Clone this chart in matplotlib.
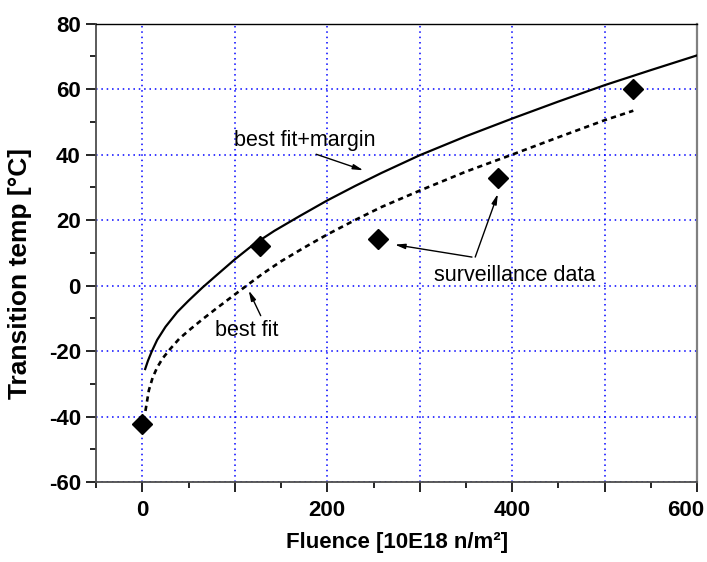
import matplotlib
matplotlib.use("Agg")
import matplotlib.pyplot as plt
from matplotlib.ticker import MultipleLocator, FuncFormatter
from matplotlib.transforms import ScaledTranslation

plt.rcParams['font.family'] = ['Liberation Sans', 'DejaVu Sans']
plt.rcParams['axes.unicode_minus'] = False

# surveillance measurements
fluence = [0, 127, 255, 385, 531]
temp = [-42.3, 12.0, 14.2, 33.0, 60.1]

# best fit + margin curve (solid)
margin_x = [3, 6, 10, 16, 25, 37.7, 50, 65, 80, 100, 120, 142.7, 170, 200, 230, 258.7,
            300, 350, 400, 450, 500, 550, 600]
margin_y = [-25.5, -23.0, -20.2, -16.6, -12.6, -8.1, -4.6, -0.6, 3.1, 8.0, 12.5, 16.7, 21.2, 26.0, 30.4, 34.4,
            39.8, 45.6, 51.0, 56.2, 61.2, 65.8, 70.3]

# best fit curve (dashed)
fit_x = [3.3, 7, 11, 16, 22, 30, 40, 52, 65, 80, 95, 110, 130, 150, 175, 200, 230, 258.7,
         300, 350, 400, 450, 500, 531]
fit_y = [-38.3, -32.0, -28.2, -25.0, -22.2, -19.4, -16.2, -13.3, -10.3, -7.0, -3.8, -0.6, 3.6, 7.4, 11.6, 15.6, 20.0, 24.0,
         29.0, 34.8, 40.0, 45.3, 50.5, 53.4]

fig = plt.figure(figsize=(7.07, 5.62), dpi=100)
ax = fig.add_axes([0.136, 0.1423, 0.850, 0.8157])

ax.plot(margin_x, margin_y, color='black', lw=1.6, zorder=3)
ax.plot(fit_x, fit_y, color='black', lw=1.9, linestyle=(0, (2.0, 1.6)), zorder=3)
ax.plot(fluence, temp, linestyle='none', marker='D', color='black', ms=10, zorder=4)

ax.set_xlim(-50, 600)
ax.set_ylim(-60, 80)

ax.xaxis.set_major_locator(MultipleLocator(100))
ax.xaxis.set_minor_locator(MultipleLocator(50))
ax.xaxis.set_major_formatter(FuncFormatter(lambda v, p: '%d' % v if round(v) % 200 == 0 else ''))
ax.yaxis.set_major_locator(MultipleLocator(20))
ax.yaxis.set_minor_locator(MultipleLocator(10))

ax.tick_params(which='major', direction='out', length=7, width=1.2, labelsize=16)
ax.tick_params(axis='x', which='major', pad=6)
ax.tick_params(axis='y', which='major', pad=4)
ax.tick_params(which='minor', direction='out', length=4, width=1.2)
ax.tick_params(top=False, right=False, which='both')
for lab in ax.get_xticklabels() + ax.get_yticklabels():
    lab.set_fontweight('bold')

ax.grid(True, which='major', color='#0000ff', linestyle=(0, (1, 2.5)), lw=1.1)

ax.spines['top'].set_color('black')
ax.spines['top'].set_linewidth(1.0)
ax.spines['right'].set_color('0.5')
ax.spines['right'].set_linewidth(1.6)
for s in ['left', 'bottom']:
    ax.spines[s].set_color('0.3')
    ax.spines[s].set_linewidth(1.3)

ax.set_xlabel('Fluence [10E18 n/m²]', fontsize=16, fontweight='bold', labelpad=8)
ax.set_ylabel('Transition temp [°C]', fontsize=19, fontweight='bold')
ax.yaxis.set_label_coords(-0.107, 0.455)

arrow = dict(arrowstyle='-|>,head_length=0.6,head_width=0.15', color='black', lw=1.0, shrinkA=0, shrinkB=0)

ax.text(99, 44.4, 'best fit+margin', fontsize=15.5, ha='left', va='center')
ax.annotate('', xy=(239, 35.2), xytext=(188, 40.1), arrowprops=arrow)

ax.text(79, -13.8, 'best fit', fontsize=15.5, ha='left', va='center')
ax.annotate('', xy=(115, -1.5), xytext=(128, -9.2), arrowprops=arrow)

ax.text(315, 3, 'surveillance data', fontsize=15.5, ha='left', va='center')
ax.annotate('', xy=(273, 12.5), xytext=(356.5, 8.7), arrowprops=arrow)
ax.annotate('', xy=(384.5, 28), xytext=(360, 8.7), arrowprops=arrow)

# keep the last x label inside the figure
fig.canvas.draw()
for tick in ax.xaxis.get_major_ticks():
    if abs(tick.get_loc() - 600) < 1:
        tick.label1.set_transform(tick.label1.get_transform() + ScaledTranslation(-0.11, 0, fig.dpi_scale_trans))

fig.savefig('out.png', dpi=100)
